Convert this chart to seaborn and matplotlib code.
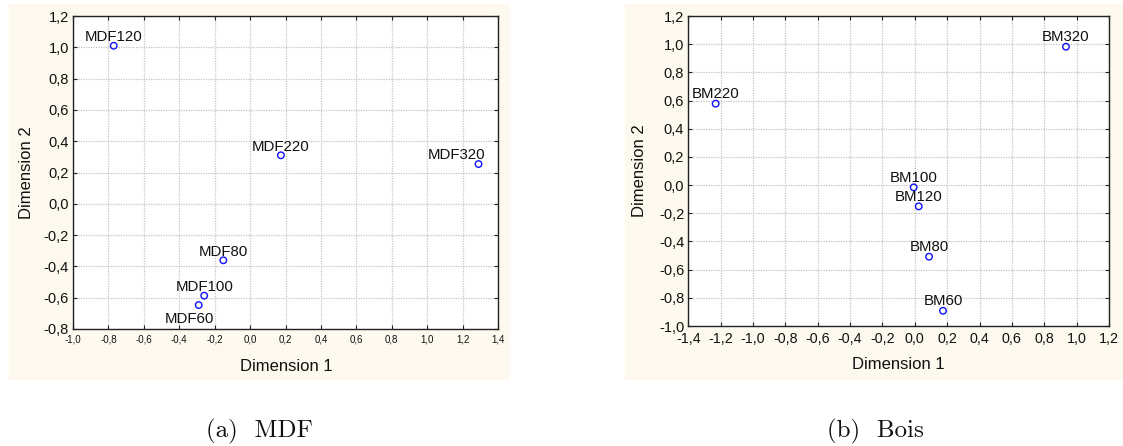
import matplotlib
matplotlib.use("Agg")
import matplotlib.pyplot as plt
from matplotlib.patches import Rectangle
from matplotlib.ticker import FuncFormatter
import seaborn as sns
import pandas as pd

# ---------------- data ----------------
mdf_labels = ["MDF120", "MDF220", "MDF320", "MDF80", "MDF100", "MDF60"]
mdf_dim1 = [-0.77, 0.174, 1.29, -0.151, -0.259, -0.29]
mdf_dim2 = [1.01, 0.31, 0.254, -0.361, -0.587, -0.647]

bm_labels = ["BM320", "BM220", "BM100", "BM120", "BM80", "BM60"]
bm_dim1 = [0.934, -1.231, -0.007, 0.024, 0.088, 0.174]
bm_dim2 = [0.982, 0.578, -0.016, -0.151, -0.508, -0.892]

mdf_xticks = [-1.0, -0.8, -0.6, -0.4, -0.2, 0.0, 0.2, 0.4, 0.6, 0.8, 1.0, 1.2, 1.4]
mdf_yticks = [-0.8, -0.6, -0.4, -0.2, 0.0, 0.2, 0.4, 0.6, 0.8, 1.0, 1.2]
bm_xticks = [-1.4, -1.2, -1.0, -0.8, -0.6, -0.4, -0.2, 0.0, 0.2, 0.4, 0.6, 0.8, 1.0, 1.2]
bm_yticks = [-1.0, -0.8, -0.6, -0.4, -0.2, 0.0, 0.2, 0.4, 0.6, 0.8, 1.0, 1.2]

captions = ["(a)  MDF", "(b)  Bois"]
axis_x_label = "Dimension 1"
axis_y_label = "Dimension 2"

# label offsets (style, in points): (dx, dy, va)
mdf_offsets = {"MDF320": (-15.5, 3.4, "baseline"), "MDF60": (-6.8, -4.8, "top")}
bm_offsets = {}

# ---------------- style ----------------
sns.set_theme(style="white")
plt.rcParams["font.family"] = ["Liberation Sans", "DejaVu Sans"]

BG = "#fef9ee"
W, H = 1123, 446
fig = plt.figure(figsize=(W / 100, H / 100), dpi=100)
fig.patch.set_facecolor("white")

# beige panel backgrounds
fig.patches.append(Rectangle((9 / W, 1 - 380 / H), 501 / W, 376 / H,
                             transform=fig.transFigure, facecolor=BG,
                             edgecolor="none", zorder=-10))
fig.patches.append(Rectangle((625 / W, 1 - 380 / H), (W - 625) / W, 376 / H,
                             transform=fig.transFigure, facecolor=BG,
                             edgecolor="none", zorder=-10))

axL = fig.add_axes([73 / W, 1 - 329 / H, (498 - 73) / W, (329 - 16) / H])
axR = fig.add_axes([688.3 / W, 1 - 326 / H, (1109 - 688.3) / W, (326 - 16) / H])
for a in (axL, axR):
    a.set_zorder(1)

comma = FuncFormatter(lambda v, p: f"{v:.1f}".replace(".", ",")
                      if abs(v) > 1e-9 else "0,0")


def draw(ax, xs, ys, labels, xticks, yticks, xtick_fs, ytick_fs, offsets, base_dy,
         xlabel_pos, ylabel_pos):
    df = pd.DataFrame({"d1": xs, "d2": ys, "lab": labels})
    ax.set_facecolor("white")
    sns.scatterplot(data=df, x="d1", y="d2", ax=ax, marker="o", s=22,
                    facecolors="none", edgecolor="#1010ff", linewidth=1.0,
                    zorder=5, legend=False)
    for x, y, lab in zip(xs, ys, labels):
        dx, dy, va = offsets.get(lab, (0, base_dy, "baseline"))
        ax.annotate(lab, (x, y), xytext=(dx, dy), textcoords="offset points",
                    ha="center", va=va, fontsize=10.8, color="#111111", zorder=6)
    ax.set_xlim(xticks[0], xticks[-1])
    ax.set_ylim(yticks[0], yticks[-1])
    ax.set_xticks(xticks)
    ax.set_yticks(yticks)
    ax.xaxis.set_major_formatter(comma)
    ax.yaxis.set_major_formatter(comma)
    ax.grid(True, color="#c4c4c4", linestyle=(0, (1, 1)), linewidth=0.9)
    ax.set_axisbelow(True)
    for s in ax.spines.values():
        s.set_color("#222222")
        s.set_linewidth(1.0)
        s.set_visible(True)
    ax.tick_params(axis="both", which="both", direction="in", length=3,
                   width=0.8, color="#222222", top=True, right=True,
                   bottom=True, left=True)
    ax.tick_params(axis="x", labelsize=xtick_fs, pad=4, labelcolor="#111111")
    ax.tick_params(axis="y", labelsize=ytick_fs, pad=3, labelcolor="#111111")
    ax.set_xlabel(axis_x_label, fontsize=12, color="#111111")
    ax.set_ylabel(axis_y_label, fontsize=12, color="#111111")
    ax.xaxis.set_label_coords(*xlabel_pos)
    ax.yaxis.set_label_coords(*ylabel_pos)


draw(axL, mdf_dim1, mdf_dim2, mdf_labels, mdf_xticks, mdf_yticks, 7, 10.5,
     mdf_offsets, 3.4, (0.501, -0.095), (-0.092, 0.5))
draw(axR, bm_dim1, bm_dim2, bm_labels, bm_xticks, bm_yticks, 10.3, 10.5,
     bm_offsets, 4.2, (0.5, -0.1), (-0.099, 0.5))

cap_font = ["cmr10", "DejaVu Serif"]
fig.text(259 / W, 1 - 437 / H, captions[0], ha="center", va="baseline",
         fontsize=18, family=cap_font, color="#111111")
fig.text(875 / W, 1 - 437 / H, captions[1], ha="center", va="baseline",
         fontsize=18, family=cap_font, color="#111111")

fig.savefig("out.png", dpi=100, facecolor="white")
